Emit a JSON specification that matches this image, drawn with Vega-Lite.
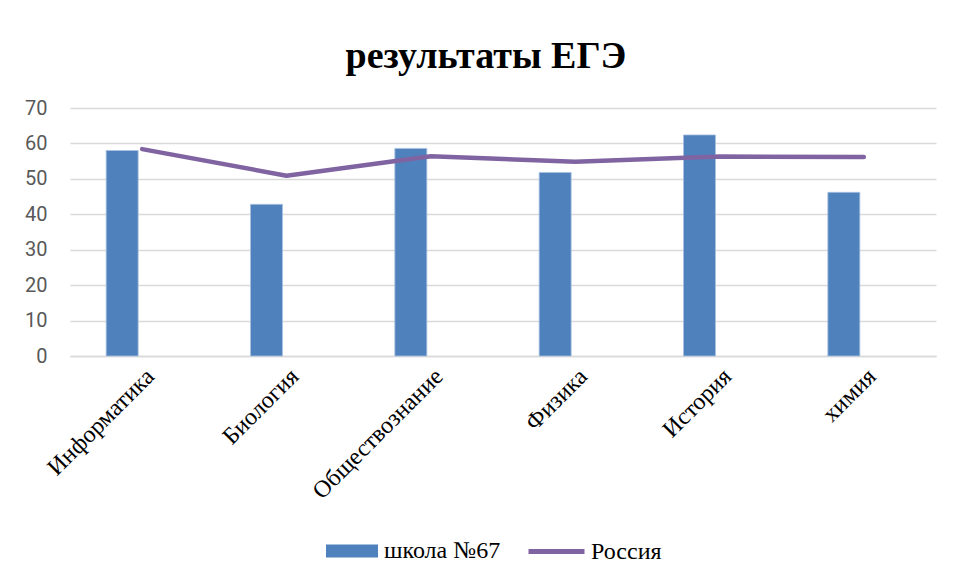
{
  "$schema": "https://vega.github.io/schema/vega-lite/v6.json",
  "width": 866,
  "height": 248,
  "padding": {"left": 24, "top": 38, "right": 22, "bottom": 10},
  "autosize": {"type": "pad"},
  "background": "white",
  "config": {"view": {"stroke": null}},
  "title": {
    "text": "результаты ЕГЭ",
    "font": "Liberation Serif",
    "fontSize": 38,
    "fontWeight": "bold",
    "color": "#000000",
    "anchor": "middle",
    "dx": -17,
    "offset": 22
  },
  "data": {
    "values": [
      {"subject": "Информатика", "series": "школа №67", "value": 58},
      {"subject": "Биология", "series": "школа №67", "value": 42.8},
      {"subject": "Обществознание", "series": "школа №67", "value": 58.6},
      {"subject": "Физика", "series": "школа №67", "value": 51.8},
      {"subject": "История", "series": "школа №67", "value": 62.4},
      {"subject": "химия", "series": "школа №67", "value": 46.2},
      {"subject": "Информатика", "series": "Россия", "value": 58.4},
      {"subject": "Биология", "series": "Россия", "value": 50.9},
      {"subject": "Обществознание", "series": "Россия", "value": 56.4},
      {"subject": "Физика", "series": "Россия", "value": 54.8},
      {"subject": "История", "series": "Россия", "value": 56.3},
      {"subject": "химия", "series": "Россия", "value": 56.2}
    ]
  },
  "encoding": {
    "x": {
      "field": "subject",
      "type": "nominal",
      "sort": null,
      "scale": {"paddingInner": 0, "paddingOuter": 0},
      "axis": {
        "title": null,
        "labelAngle": -45,
        "labelFont": "Liberation Serif",
        "labelFontSize": 24,
        "labelColor": "#000000",
        "labelPadding": 8,
        "ticks": false,
        "domainColor": "#d9d9d9",
        "domainWidth": 1.3
      }
    },
    "y": {
      "field": "value",
      "type": "quantitative",
      "scale": {"domain": [0, 70]},
      "axis": {
        "title": null,
        "values": [0, 10, 20, 30, 40, 50, 60, 70],
        "labelFont": "Roboto",
        "labelFontSize": 20,
        "labelColor": "#595959",
        "labelPadding": 23,
        "ticks": false,
        "domain": false,
        "gridColor": "#d9d9d9",
        "gridWidth": 1.3
      }
    }
  },
  "layer": [
    {
      "transform": [{"filter": "datum.series === 'школа №67'"}],
      "mark": {"type": "bar", "width": 32, "xOffset": -20, "stroke": "#a9c1e0", "strokeWidth": 0.8},
      "encoding": {
        "color": {
          "field": "series",
          "type": "nominal",
          "scale": {"domain": ["школа №67"], "range": ["#4f81bd"]},
          "legend": {
            "title": null,
            "orient": "none",
            "legendX": 256,
            "legendY": 417,
            "labelFont": "Liberation Serif",
            "labelFontSize": 24,
            "labelColor": "#000000",
            "symbolType": "M-1,-0.25H1V0.25H-1Z",
            "symbolSize": 2704,
            "symbolStrokeWidth": 0,
            "symbolOpacity": 1,
            "labelOffset": 6
          }
        }
      }
    },
    {
      "transform": [{"filter": "datum.series === 'Россия'"}],
      "mark": {"type": "line", "strokeWidth": 4.5, "strokeCap": "round", "strokeJoin": "round"},
      "encoding": {
        "stroke": {
          "field": "series",
          "type": "nominal",
          "scale": {"domain": ["Россия"], "range": ["#8064a2"]},
          "legend": {
            "title": null,
            "orient": "none",
            "legendX": 456,
            "legendY": 413,
            "labelFont": "Liberation Serif",
            "labelFontSize": 24,
            "labelColor": "#000000",
            "symbolType": "stroke",
            "symbolSize": 3136,
            "symbolStrokeWidth": 5,
            "labelOffset": 4
          }
        }
      }
    }
  ]
}
